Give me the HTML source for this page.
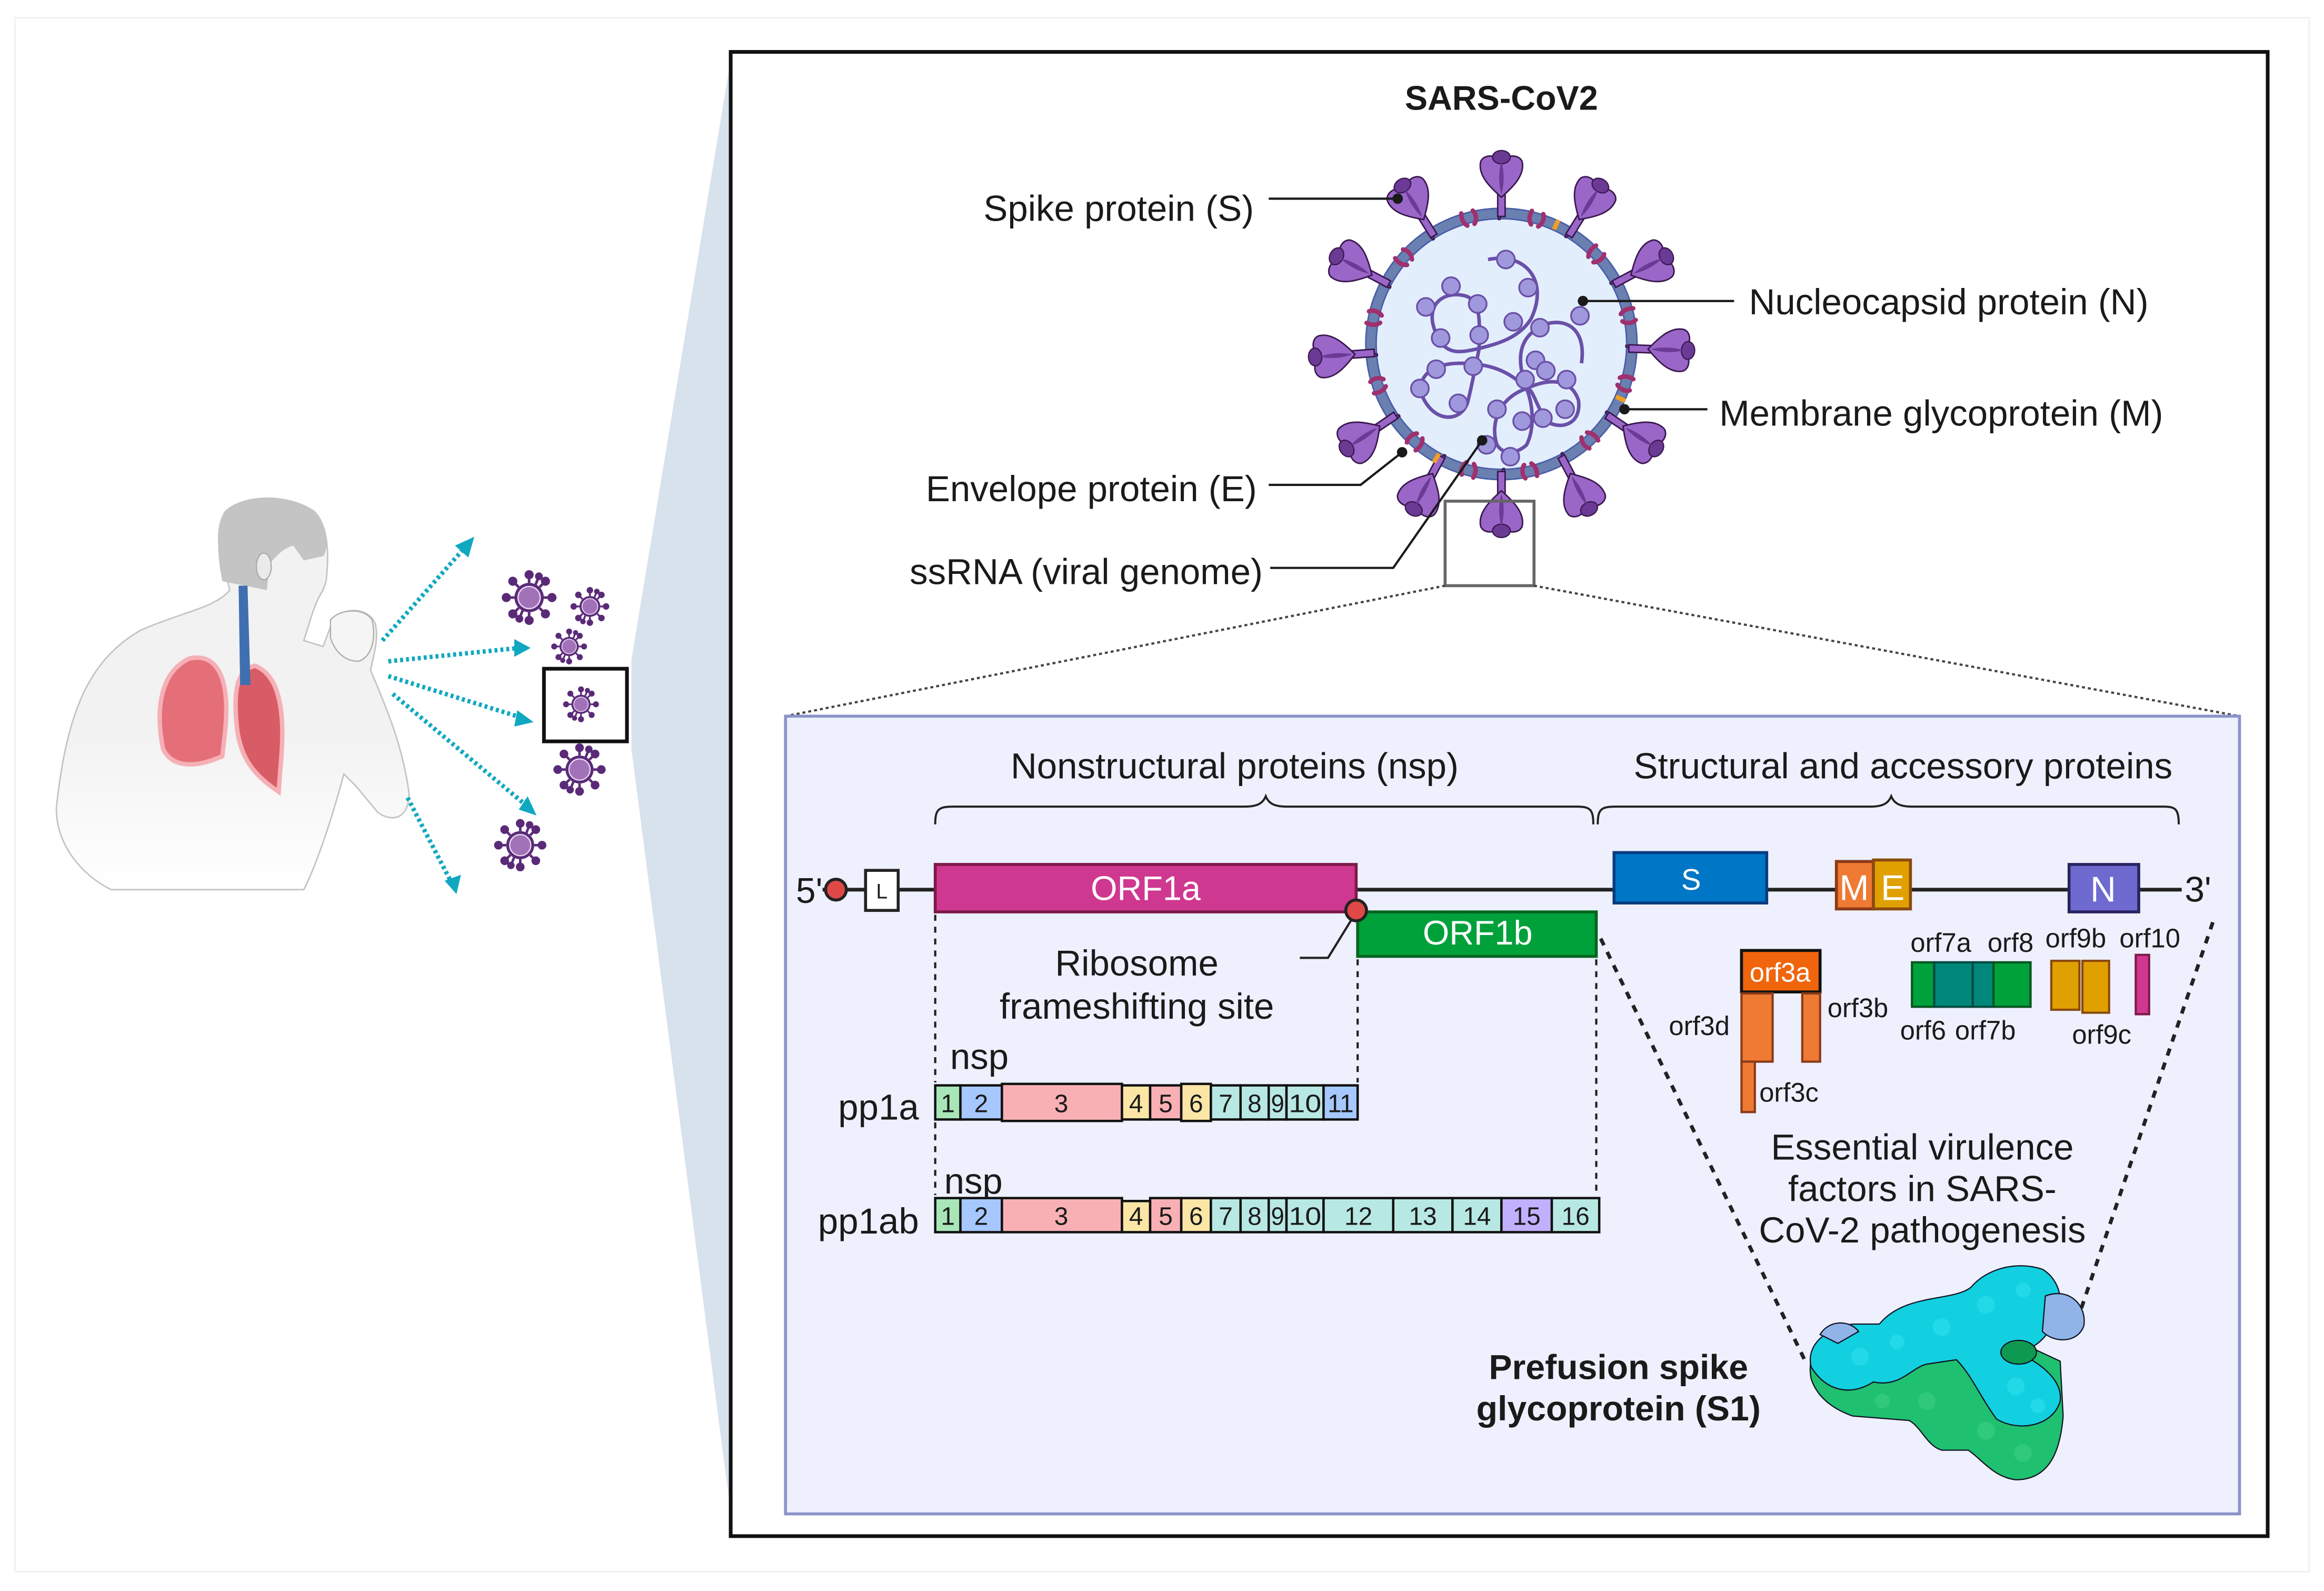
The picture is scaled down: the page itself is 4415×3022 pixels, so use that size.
<!DOCTYPE html>
<html><head><meta charset="utf-8"><style>
html,body{margin:0;padding:0;background:#fff}
svg{display:block}
text{font-family:"Liberation Sans",sans-serif;fill:#1a1a1a}
</style></head><body>
<svg width="4415" height="3022" viewBox="0 0 1568 1073" preserveAspectRatio="none" xmlns="http://www.w3.org/2000/svg">
<defs>
<g id="spk">
<path d="M-2,2 C-3,-6 3,-10 1,-18 L-1,-18 C-3,-10 2,-6 -1,2Z" fill="#9a66c8" stroke="#3a1850" stroke-width="1"/>
<path d="M-2.5,0 L-2.5,-16 L2.5,-16 L2.5,0Z" fill="#9a66c8" stroke="#3a1850" stroke-width="1"/>
<path d="M0,-13 C-8,-20 -16,-28 -14,-37 C-12,-42 -4,-42 0,-37 C4,-42 12,-42 14,-37 C16,-28 8,-20 0,-13Z" fill="#9a66c8" stroke="#3a1850" stroke-width="1"/>
<ellipse cx="0" cy="-40" rx="6" ry="4.5" fill="#6a3a94" stroke="#3a1850" stroke-width="0.8"/>
<path d="M0,-15 C-2,-22 -2,-30 0,-37 C2,-30 2,-22 0,-15Z" fill="#6a3a94"/>
</g>
<g id="mp"><path d="M-5,-3 C-6,1 -5,4 -3,6 M3,-3 C5,0 4,4 2,6" stroke="#a0306e" stroke-width="3" fill="none" stroke-linecap="round"/></g>
<g id="sv">
<g stroke="#5a2a78" stroke-width="1.6" fill="#5a2a78">
<line x1="0" y1="-9" x2="0" y2="-14"/><circle cx="0" cy="-14" r="2"/>
<line x1="6.4" y1="-6.4" x2="10" y2="-10"/><circle cx="10" cy="-10" r="2"/>
<line x1="9" y1="0" x2="14" y2="0"/><circle cx="14" cy="0" r="2"/>
<line x1="6.4" y1="6.4" x2="10" y2="10"/><circle cx="10" cy="10" r="2"/>
<line x1="0" y1="9" x2="0" y2="14"/><circle cx="0" cy="14" r="2"/>
<line x1="-6.4" y1="6.4" x2="-10" y2="10"/><circle cx="-10" cy="10" r="2"/>
<line x1="-9" y1="0" x2="-14" y2="0"/><circle cx="-14" cy="0" r="2"/>
<line x1="-6.4" y1="-6.4" x2="-10" y2="-10"/><circle cx="-10" cy="-10" r="2"/>
<line x1="4" y1="-8" x2="6" y2="-13"/><circle cx="6" cy="-13" r="1.6"/>
<line x1="-4" y1="8" x2="-6" y2="13"/><circle cx="-6" cy="13" r="1.6"/>
</g>
<circle r="9" fill="#5a2a78"/><circle r="6.8" fill="#a272b8" stroke="#e8d8f0" stroke-width="0.8"/>
</g>
<linearGradient id="fade" x1="0" y1="0" x2="0" y2="1"><stop offset="0.6" stop-color="#f2f2f2"/><stop offset="1" stop-color="#fff"/></linearGradient>
</defs>

<rect x="0" y="0" width="1568" height="1073" fill="#fff"/>
<rect x="10" y="12" width="1548" height="1048" fill="none" stroke="#f0f0f0" stroke-width="1"/>

<polygon points="426,445 493,40 493,1020 426,505" fill="#d8e2ec"/>
<rect x="493" y="35" width="1037" height="1001" fill="#fff" stroke="#111" stroke-width="2.5"/>

<!-- person -->
<g>
<path d="M38,545 C45,480 60,445 95,425 C125,412 145,410 155,398 L152,385 C146,370 146,355 152,345 C165,333 195,333 212,345 C222,355 222,375 220,392 L218,398 C214,404 212,410 210,416 L205,432 L218,436 L224,420 C232,408 248,410 253,420 C256,430 252,442 250,452 C262,480 272,505 276,535 C276,552 265,555 255,548 L240,530 L232,522 C225,548 215,580 205,600 L75,600 C55,590 38,570 38,545Z" fill="url(#fade)" stroke="#c4c4c4" stroke-width="1"/>
<path d="M150,392 C146,372 146,356 152,345 C165,333 195,333 212,345 C222,355 222,370 218,375 L205,378 L198,368 C190,370 186,376 182,380 L180,398 Z" fill="#c4c4c4"/>
<ellipse cx="178" cy="382" rx="5" ry="9" fill="#eaeaea" stroke="#aaa" stroke-width="0.8"/>
<path d="M223,418 C230,410 246,410 251,418 C254,430 251,443 242,446 C233,446 226,440 223,430Z" fill="#f5f5f5" stroke="#aaa" stroke-width="0.8"/>
<path d="M110,505 C104,475 110,452 128,444 C148,440 155,460 152,492 L150,510 C132,518 116,518 110,505Z" fill="#e46f78" stroke="#f5b0b6" stroke-width="3"/>
<path d="M160,492 C157,465 160,452 172,449 C188,455 192,478 190,508 L188,534 C175,525 163,515 160,492Z" fill="#d85c66" stroke="#f5b0b6" stroke-width="3"/>
<path d="M161,395 L162,462 L169,462 L167,395Z" fill="#3f6fb0"/>
</g>

<g stroke="#10a8c0" stroke-width="3" stroke-dasharray="2,2" fill="none">
<line x1="258" y1="432" x2="313" y2="370"/>
<line x1="262" y1="446" x2="350" y2="437"/>
<line x1="262" y1="456" x2="352" y2="484"/>
<line x1="265" y1="468" x2="356" y2="544"/>
<line x1="275" y1="538" x2="305" y2="596"/>
</g>
<g fill="#10a8c0">
<polygon points="320,362 307,368 316,376"/>
<polygon points="358,437 347,431 347,443"/>
<polygon points="360,487 349,479 347,490"/>
<polygon points="362,550 350,546 356,537"/>
<polygon points="308,603 300,594 311,590"/>
</g>
<use href="#sv" transform="translate(357,403) scale(1.1)"/>
<use href="#sv" transform="translate(398,409) scale(0.78)"/>
<use href="#sv" transform="translate(384,436) scale(0.72)"/>
<rect x="367" y="451" width="56" height="49" fill="#fff" stroke="#111" stroke-width="2.5"/>
<use href="#sv" transform="translate(392,475) scale(0.72)"/>
<use href="#sv" transform="translate(391,519) scale(1.05)"/>
<use href="#sv" transform="translate(351,570) scale(1.05)"/>

<text x="1013" y="74" font-size="23" font-weight="bold" text-anchor="middle">SARS-CoV2</text>

<!-- virus -->
<g transform="translate(1013,232)">
<circle r="88" fill="#e3eefd" stroke="#6a80b0" stroke-width="7"/>
<circle r="91.5" fill="none" stroke="#4a5ea8" stroke-width="1"/>
<circle r="84.5" fill="none" stroke="#4a5ea8" stroke-width="1"/>
<g transform="rotate(0) translate(0,-86)"><use href="#spk"/></g>
<g transform="rotate(32) translate(0,-86)"><use href="#spk"/></g>
<g transform="rotate(62) translate(0,-86)"><use href="#spk"/></g>
<g transform="rotate(92) translate(0,-86)"><use href="#spk"/></g>
<g transform="rotate(124) translate(0,-86)"><use href="#spk"/></g>
<g transform="rotate(152) translate(0,-86)"><use href="#spk"/></g>
<g transform="rotate(180) translate(0,-86)"><use href="#spk"/></g>
<g transform="rotate(208) translate(0,-86)"><use href="#spk"/></g>
<g transform="rotate(236) translate(0,-86)"><use href="#spk"/></g>
<g transform="rotate(266) translate(0,-86)"><use href="#spk"/></g>
<g transform="rotate(298) translate(0,-86)"><use href="#spk"/></g>
<g transform="rotate(328) translate(0,-86)"><use href="#spk"/></g>
<g transform="rotate(-14) translate(0,-89)"><use href="#mp"/></g>
<g transform="rotate(16) translate(0,-89)"><use href="#mp"/></g>
<g transform="rotate(47) translate(0,-89)"><use href="#mp"/></g>
<g transform="rotate(78) translate(0,-89)"><use href="#mp"/></g>
<g transform="rotate(108) translate(0,-89)"><use href="#mp"/></g>
<g transform="rotate(138) translate(0,-89)"><use href="#mp"/></g>
<g transform="rotate(168) translate(0,-89)"><use href="#mp"/></g>
<g transform="rotate(195) translate(0,-89)"><use href="#mp"/></g>
<g transform="rotate(222) translate(0,-89)"><use href="#mp"/></g>
<g transform="rotate(252) translate(0,-89)"><use href="#mp"/></g>
<g transform="rotate(282) translate(0,-89)"><use href="#mp"/></g>
<g transform="rotate(312) translate(0,-89)"><use href="#mp"/></g>
<rect x="-2" y="-92" width="3" height="7" fill="#f0a020" transform="rotate(25)"/>
<rect x="-2" y="-92" width="3" height="7" fill="#f0a020" transform="rotate(115)"/>
<rect x="-2" y="-92" width="3" height="7" fill="#f0a020" transform="rotate(210)"/>
</g>
<g stroke="#6a50a8" stroke-width="2.4" fill="none">
<path d="M1004,175 C1030,170 1045,190 1033,215 C1025,228 1010,232 998,235"/>
<path d="M998,235 C985,238 975,240 969,225 C960,205 975,195 990,200 C1000,205 998,220 998,235"/>
<path d="M998,235 C995,250 992,265 990,272 C985,285 968,285 960,268 C955,255 965,245 985,245 C1005,245 1018,250 1030,262"/>
<path d="M1030,262 C1045,255 1060,255 1065,270 C1067,285 1055,290 1045,285 C1036,275 1035,262 1030,262"/>
<path d="M1030,262 C1012,268 1005,285 1010,300 C1015,308 1025,305 1030,300 C1035,290 1035,275 1030,262"/>
<path d="M1030,262 C1022,240 1025,225 1045,218 C1060,215 1070,225 1067,245"/>
</g>
<g fill="#a098dc" stroke="#6a50a8" stroke-width="1.2">
<circle cx="1016" cy="175" r="6"/><circle cx="1031" cy="194" r="6"/><circle cx="1021" cy="217" r="6"/>
<circle cx="979" cy="193" r="6"/><circle cx="997" cy="205" r="6"/><circle cx="962" cy="207" r="6"/><circle cx="972" cy="228" r="6"/><circle cx="998" cy="226" r="6"/>
<circle cx="969" cy="249" r="6"/><circle cx="994" cy="247" r="6"/><circle cx="958" cy="262" r="6"/><circle cx="984" cy="272" r="6"/>
<circle cx="1039" cy="221" r="6"/><circle cx="1066" cy="213" r="6"/><circle cx="1036" cy="243" r="6"/>
<circle cx="1029" cy="256" r="6"/><circle cx="1043" cy="250" r="6"/><circle cx="1057" cy="256" r="6"/><circle cx="1056" cy="276" r="6"/><circle cx="1041" cy="282" r="6"/>
<circle cx="1010" cy="276" r="6"/><circle cx="1027" cy="284" r="6"/><circle cx="1003" cy="300" r="6"/><circle cx="1019" cy="308" r="6"/>
</g>
<g stroke="#1a1a1a" stroke-width="1.5" fill="none">
<line x1="856" y1="134" x2="943" y2="134"/>
<line x1="1068" y1="203" x2="1170" y2="203"/>
<line x1="1096" y1="276" x2="1152" y2="276"/>
<polyline points="856,327 918,327 946,305"/>
<polyline points="857,383 940,383 1000,297"/>
</g>
<g fill="#1a1a1a"><circle cx="943" cy="134" r="3.5"/><circle cx="1068" cy="203" r="3.5"/><circle cx="1096" cy="276" r="3.5"/><circle cx="946" cy="305" r="3.5"/><circle cx="1000" cy="297" r="3.5"/></g>
<g font-size="24.5">
<text x="846" y="149" text-anchor="end">Spike protein (S)</text>
<text x="1180" y="212">Nucleocapsid protein (N)</text>
<text x="1160" y="287">Membrane glycoprotein (M)</text>
<text x="848" y="338" text-anchor="end">Envelope protein (E)</text>
<text x="852" y="394" text-anchor="end">ssRNA (viral genome)</text>
</g>
<rect x="975" y="338" width="60" height="57" fill="none" stroke="#666" stroke-width="2"/>

<g stroke="#444" stroke-width="1.5" stroke-dasharray="2,2">
<line x1="975" y1="395" x2="530" y2="483"/>
<line x1="1035" y1="395" x2="1511" y2="483"/>
</g>

<rect x="530" y="483" width="981" height="538" fill="#eef0fd" stroke="#8a94c8" stroke-width="2"/>

<text x="833" y="525" font-size="24.5" text-anchor="middle">Nonstructural proteins (nsp)</text>
<text x="1284" y="525" font-size="24.5" text-anchor="middle">Structural and accessory proteins</text>
<g stroke="#222" stroke-width="1.4" fill="none">
<path d="M631,556 C631,546 633,544 643,544 L840,544 C848,544 852,542 854,537 C856,542 860,544 868,544 L1064,544 C1073,544 1075,546 1075,556"/>
<path d="M1078,556 C1078,546 1080,544 1090,544 L1262,544 C1270,544 1274,542 1276,537 C1278,542 1282,544 1290,544 L1460,544 C1468,544 1470,546 1470,556"/>
</g>

<line x1="555" y1="600" x2="1472" y2="600" stroke="#222" stroke-width="2.5"/>
<text x="537" y="609" font-size="24">5'</text>
<circle cx="564" cy="600" r="7" fill="#e04848" stroke="#222" stroke-width="2"/>
<rect x="584" y="587" width="22" height="27" fill="#fff" stroke="#222" stroke-width="2"/>
<text x="595" y="606" font-size="14" text-anchor="middle">L</text>
<rect x="631" y="583" width="284" height="32" fill="#cf3890" stroke="#7e1a48" stroke-width="2"/>
<text x="773" y="607" font-size="23" text-anchor="middle" style="fill:#fff">ORF1a</text>
<rect x="916" y="615" width="161" height="30" fill="#00a03a" stroke="#06651f" stroke-width="2"/>
<text x="997" y="637" font-size="23" text-anchor="middle" style="fill:#fff">ORF1b</text>
<circle cx="915" cy="614" r="7" fill="#e04848" stroke="#222" stroke-width="2"/>
<polyline points="877,646 896,646 912,620" stroke="#222" stroke-width="1.5" fill="none"/>
<text x="767" y="658" font-size="24.5" text-anchor="middle">Ribosome</text>
<text x="767" y="687" font-size="24.5" text-anchor="middle">frameshifting site</text>

<rect x="1089" y="575" width="103" height="34" fill="#0077c6" stroke="#0a3c80" stroke-width="2"/>
<text x="1141" y="600" font-size="20" text-anchor="middle" style="fill:#fff">S</text>
<rect x="1239" y="581" width="25" height="32" fill="#ee7a33" stroke="#8a3a18" stroke-width="2"/>
<rect x="1264" y="580" width="25" height="33" fill="#e0a000" stroke="#8a4a10" stroke-width="2"/>
<text x="1251" y="607" font-size="24" text-anchor="middle" style="fill:#fff">M</text>
<text x="1277" y="607" font-size="24" text-anchor="middle" style="fill:#fff">E</text>
<rect x="1396" y="583" width="47" height="32" fill="#6f6ad0" stroke="#2a2460" stroke-width="2"/>
<text x="1419" y="608" font-size="24" text-anchor="middle" style="fill:#fff">N</text>
<text x="1474" y="608" font-size="24">3'</text>

<rect x="1175" y="641" width="53" height="28" fill="#f0650c" stroke="#111" stroke-width="2"/>
<text x="1201" y="662" font-size="18" text-anchor="middle" style="fill:#fff">orf3a</text>
<rect x="1175" y="670" width="21" height="46" fill="#ee7a33" stroke="#8a3a18" stroke-width="1.5"/>
<rect x="1216" y="670" width="12" height="46" fill="#ee7a33" stroke="#8a3a18" stroke-width="1.5"/>
<rect x="1175" y="716" width="9" height="34" fill="#ee7a33" stroke="#8a3a18" stroke-width="1.5"/>
<g font-size="18">
<text x="1167" y="698" text-anchor="end">orf3d</text>
<text x="1233" y="686">orf3b</text>
<text x="1187" y="743">orf3c</text>
</g>
<rect x="1290" y="649" width="15" height="30" fill="#00a03a" stroke="#06551f" stroke-width="1.5"/>
<rect x="1305" y="649" width="26" height="30" fill="#00877a" stroke="#044a40" stroke-width="1.5"/>
<rect x="1331" y="649" width="14" height="30" fill="#00877a" stroke="#044a40" stroke-width="1.5"/>
<rect x="1345" y="649" width="25" height="30" fill="#00a03a" stroke="#06551f" stroke-width="1.5"/>
<rect x="1384" y="648" width="19" height="33" fill="#e0a000" stroke="#8a4a10" stroke-width="1.5"/>
<rect x="1405" y="648" width="18" height="35" fill="#e0a000" stroke="#8a4a10" stroke-width="1.5"/>
<rect x="1441" y="644" width="9" height="40" fill="#cf3890" stroke="#7e1a48" stroke-width="1.5"/>
<g font-size="18"><text x="1289" y="642">orf7a</text><text x="1341" y="642">orf8</text><text x="1380" y="639">orf9b</text><text x="1430" y="639">orf10</text><text x="1282" y="701">orf6</text><text x="1319" y="701">orf7b</text><text x="1398" y="704">orf9c</text></g>

<g stroke="#222" stroke-width="1.5" stroke-dasharray="4,4">
<line x1="631" y1="617" x2="631" y2="730"/>
<line x1="631" y1="757" x2="631" y2="806"/>
<line x1="916" y1="647" x2="916" y2="730"/>
<line x1="1077" y1="647" x2="1077" y2="806"/>
</g>
<g stroke="#222" stroke-width="2.5" stroke-dasharray="5,5">
<line x1="1080" y1="633" x2="1218" y2="918"/>
<line x1="1493" y1="622" x2="1403" y2="886"/>
</g>

<text x="641" y="721" font-size="24.5">nsp</text>
<text x="637" y="805" font-size="24.5">nsp</text>
<text x="620" y="755" font-size="24.5" text-anchor="end">pp1a</text>
<text x="620" y="832" font-size="24.5" text-anchor="end">pp1ab</text>

<g stroke="#111" stroke-width="1.6">
<rect x="631" y="732" width="17" height="23" fill="#a8e6b8"/><rect x="648" y="732" width="28" height="23" fill="#a6c8ff"/><rect x="676" y="731" width="81" height="25" fill="#f8b0b4"/><rect x="757" y="732" width="19" height="23" fill="#fce6a6"/><rect x="776" y="732" width="21" height="23" fill="#f8b0b4"/><rect x="797" y="731" width="20" height="25" fill="#fce6a6"/><rect x="817" y="732" width="20" height="23" fill="#b8e8e4"/><rect x="837" y="732" width="19" height="23" fill="#b8e8e4"/><rect x="856" y="732" width="12" height="23" fill="#b8e8e4"/><rect x="868" y="732" width="25" height="23" fill="#b8e8e4"/><rect x="893" y="732" width="23" height="23" fill="#a6c8ff"/>
<rect x="631" y="808" width="17" height="23" fill="#a8e6b8"/><rect x="648" y="808" width="28" height="23" fill="#a6c8ff"/><rect x="676" y="808" width="81" height="23" fill="#f8b0b4"/><rect x="757" y="810" width="19" height="21" fill="#fce6a6"/><rect x="776" y="808" width="21" height="23" fill="#f8b0b4"/><rect x="797" y="808" width="20" height="23" fill="#fce6a6"/><rect x="817" y="808" width="20" height="23" fill="#b8e8e4"/><rect x="837" y="808" width="19" height="23" fill="#b8e8e4"/><rect x="856" y="808" width="12" height="23" fill="#b8e8e4"/><rect x="868" y="808" width="25" height="23" fill="#b8e8e4"/><rect x="893" y="808" width="47" height="23" fill="#b8e8e4"/><rect x="940" y="808" width="40" height="23" fill="#b8e8e4"/><rect x="980" y="808" width="33" height="23" fill="#b8e8e4"/><rect x="1013" y="808" width="34" height="23" fill="#c0b0ff"/><rect x="1047" y="808" width="32" height="23" fill="#b8e8e4"/>
</g>
<g font-size="17" text-anchor="middle">
<text x="639.5" y="750">1</text><text x="662" y="750">2</text><text x="716" y="750">3</text><text x="766.5" y="750">4</text><text x="786.5" y="750">5</text><text x="807" y="750">6</text><text x="827" y="750">7</text><text x="846.5" y="750">8</text><text x="862" y="750" textLength="9" lengthAdjust="spacingAndGlyphs">9</text><text x="880.5" y="750" textLength="22" lengthAdjust="spacingAndGlyphs">10</text><text x="904.5" y="750">11</text>
<text x="639.5" y="826">1</text><text x="662" y="826">2</text><text x="716" y="826">3</text><text x="766.5" y="826">4</text><text x="786.5" y="826">5</text><text x="807" y="826">6</text><text x="827" y="826">7</text><text x="846.5" y="826">8</text><text x="862" y="826" textLength="9" lengthAdjust="spacingAndGlyphs">9</text><text x="880.5" y="826" textLength="22" lengthAdjust="spacingAndGlyphs">10</text><text x="916.5" y="826">12</text><text x="960" y="826">13</text><text x="996.5" y="826">14</text><text x="1030" y="826">15</text><text x="1063" y="826">16</text>
</g>

<text x="1297" y="782" font-size="24.5" text-anchor="middle">Essential virulence</text>
<text x="1297" y="810" font-size="24.5" text-anchor="middle">factors in SARS-</text>
<text x="1297" y="838" font-size="24.5" text-anchor="middle">CoV-2 pathogenesis</text>
<text x="1092" y="930" font-size="23.5" font-weight="bold" text-anchor="middle">Prefusion spike</text>
<text x="1092" y="958" font-size="23.5" font-weight="bold" text-anchor="middle">glycoprotein (S1)</text>

<!-- protein blob -->
<g stroke="#112" stroke-width="0.8">
<path d="M1222,930 C1218,910 1232,898 1255,898 L1290,895 L1330,900 L1362,905 L1390,918 L1392,955 C1390,980 1382,998 1360,998 C1345,996 1338,985 1328,978 L1310,978 C1300,975 1296,962 1288,958 L1250,955 C1236,950 1226,942 1222,930Z" fill="#1fc070"/>
<path d="M1268,893 C1285,872 1318,878 1330,868 C1340,856 1360,850 1378,856 C1390,863 1394,880 1386,893 C1378,905 1372,910 1360,912 C1375,918 1392,930 1390,945 C1385,962 1362,966 1347,957 C1336,942 1330,927 1320,917 L1300,920 C1290,922 1282,936 1264,932 C1248,942 1232,938 1222,922 C1218,906 1234,895 1250,893 Z" fill="#12d0e0"/>
<path d="M1380,874 C1396,868 1408,880 1406,894 C1402,906 1386,906 1378,898Z" fill="#90b4e8"/>
<path d="M1228,900 C1234,890 1248,890 1254,898 L1240,906Z" fill="#90b4e8"/>
<ellipse cx="1362" cy="912" rx="12" ry="8" fill="#0d9a50"/>
</g>
<g fill="#2ee0ee" opacity="0.6">
<circle cx="1255" cy="915" r="6"/><circle cx="1280" cy="905" r="5"/><circle cx="1310" cy="895" r="6"/><circle cx="1340" cy="880" r="6"/><circle cx="1365" cy="870" r="5"/><circle cx="1360" cy="935" r="6"/><circle cx="1375" cy="948" r="5"/>
</g>
<g fill="#3ad080" opacity="0.6">
<circle cx="1300" cy="945" r="6"/><circle cx="1340" cy="965" r="6"/><circle cx="1365" cy="980" r="6"/><circle cx="1270" cy="945" r="5"/>
</g>
</svg>
</body></html>
